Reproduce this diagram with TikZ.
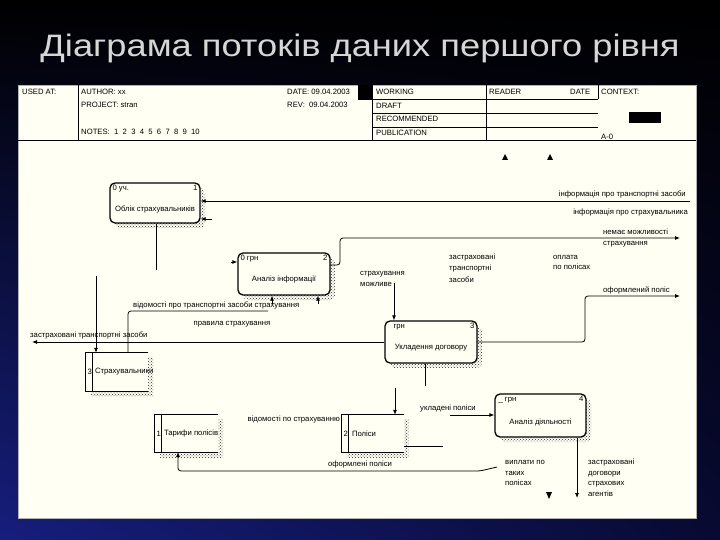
\documentclass[tikz,border=0pt]{standalone}
\usepackage{fontspec}
\setmainfont{Liberation Sans}
\usetikzlibrary{calc,arrows.meta,patterns,shadings}
\definecolor{paper}{HTML}{FFFFF4}
\definecolor{titlec}{HTML}{D6D6D6}
\definecolor{bgblue}{RGB}{22,30,125}
\definecolor{bgdark}{RGB}{8,10,50}
\definecolor{shad}{RGB}{40,40,40}
\newcommand\dfdstore[5]{% name, center, size-x, size-y, number/text
  \node[minimum width=#3pt, minimum height=#4pt, inner sep=0pt] (#1) at #2 {};
  \fill[pattern=crosshatch dots, pattern color=shad] ($(#1.north west)+(5,5)$) rectangle ($(#1.south east)+(5,5)$);
  \fill[paper] (#1.north west) rectangle (#1.south east);
  \draw[line width=1.3pt] (#1.north east) -- (#1.north west) -- (#1.south west) -- (#1.south east);
  \draw[line width=1.2pt] ($(#1.north west)+(7,0)$) -- ($(#1.south west)+(7,0)$);
  #5}
\begin{document}
\begin{tikzpicture}[x=1pt,y=-1pt,
  lbl/.style={font=\fontsize{7.7}{9}\selectfont, inner sep=0pt},
  arr/.style={-{Latex[length=5pt,width=4pt]}, line width=0.8pt},
  ln/.style={line width=0.8pt},
  proc/.style={draw, line width=1.3pt, rounded corners=5pt, fill=paper, inner sep=0pt,
    preaction={draw=none, pattern=crosshatch dots, pattern color=shad,
      transform canvas={shift={(5pt,-5pt)}}}},
  tri/.style={fill=black}
]
\useasboundingbox (0,0) rectangle (720,540);
% background
\shade[upper left=black, upper right=black, lower left=bgblue, lower right=bgdark] (0,0) rectangle (720,540);
\node[font=\fontsize{31}{36}\selectfont, text=titlec] (title) at (360,48) {\scalebox{1.17}[1]{Діаграма потоків даних першого рівня}};
% panel
\fill[paper, draw=gray!60] (18,85) rectangle (696,518);

% header
\draw[ln] (78,85) -- (78,140);
\draw[ln] (18,140) -- (696,140);
\fill (358,85) rectangle (372,99);
\draw[ln] (372,85) -- (372,140);
\draw[ln] (486,85) -- (486,140);
\draw[ln] (598,85) -- (598,99);
\draw[ln] (358,99) -- (598,99);
\draw[ln] (372,113) -- (598,113);
\draw[ln] (372,127) -- (598,127);
\fill (629,112) rectangle (661,123);
\node[lbl, anchor=west] (h1) at (22,92) {USED AT:};
\node[lbl, anchor=west] (h2) at (81,92) {AUTHOR: xx};
\node[lbl, anchor=west] (h3) at (81,105) {PROJECT: stran};
\node[lbl, anchor=west] (h4) at (81,132) {NOTES: \ 1 \ 2 \ 3 \ 4 \ 5 \ 6 \ 7 \ 8 \ 9 \ 10};
\node[lbl, anchor=west] (h5) at (287,92) {DATE: 09.04.2003};
\node[lbl, anchor=west] (h6) at (287,105) {REV: \ 09.04.2003};
\node[lbl, anchor=west] (h7) at (376,92) {WORKING};
\node[lbl, anchor=west] (h8) at (376,106) {DRAFT};
\node[lbl, anchor=west] (h9) at (376,119) {RECOMMENDED};
\node[lbl, anchor=west] (h10) at (376,133) {PUBLICATION};
\node[lbl, anchor=west] (h11) at (489,92) {READER};
\node[lbl, anchor=west] (h12) at (570,92) {DATE};
\node[lbl, anchor=west] (h13) at (601,92) {CONTEXT:};
\node[lbl, anchor=west] (h14) at (601,137) {A-0};
\fill[tri] (502,160) -- (505,154) -- (508,160) -- cycle;
\fill[tri] (547,160) -- (550,154) -- (553,160) -- cycle;

% processes
\node[proc, minimum width=90pt, minimum height=40pt] (b1) at (155,203) {};
\node[lbl, anchor=north west] at ($(b1.north west)+(3,3)$) {0 уч.};
\node[lbl, anchor=north east] at ($(b1.north east)+(-3,3)$) {1};
\node[lbl] at ($(b1.center)+(0,6)$) {Облік страхувальників};

\node[proc, minimum width=92pt, minimum height=42pt] (b2) at (284,274) {};
\node[lbl, anchor=north west] at ($(b2.north west)+(3,3)$) {0 грн};
\node[lbl, anchor=north east] at ($(b2.north east)+(-3,3)$) {2};
\node[lbl] at ($(b2.center)+(0,6)$) {Аналіз інформації};

\node[proc, minimum width=92pt, minimum height=42pt] (b3) at (431,342) {};
\node[lbl, anchor=north west] at ($(b3.north west)+(9,4)$) {грн};
\node[lbl, anchor=north east] at ($(b3.north east)+(-3,3)$) {3};
\node[lbl] at ($(b3.center)+(0,6)$) {Укладення договору};

\node[proc, minimum width=91pt, minimum height=43pt] (b4) at (540.5,415.5) {};
\node[lbl, anchor=north west] at ($(b4.north west)+(4,4)$) {\_ грн};
\node[lbl, anchor=north east] at ($(b4.north east)+(-3,3)$) {4};
\node[lbl] at ($(b4.center)+(0,7)$) {Аналіз діяльності};

% stores
\dfdstore{s3}{(117,372)}{62}{38}{%
  \node[lbl, anchor=west] at ($(s3.west)+(1.5,0)$) {3};
  \node[lbl, anchor=west] at ($(s3.west)+(9,0)$) {Страхувальники};}
\dfdstore{s1}{(186.5,433.5)}{63}{37}{%
  \node[lbl, anchor=west] at ($(s1.west)+(1.5,0)$) {1};
  \node[lbl, anchor=west] at ($(s1.west)+(9,0)$) {Тарифи полісів};}
\dfdstore{s2}{(373,433.5)}{62}{37}{%
  \node[lbl, anchor=west] at ($(s2.west)+(1.5,0)$) {2};
  \node[lbl, anchor=west] at ($(s2.west)+(10,0)$) {Поліси};}

% connectors
\coordinate (i1) at (690,201);
\draw[arr] (i1) -- (i1 -| b1.east);
\node[lbl, anchor=south east] at (686,198) {інформація про транспортні засоби};
\coordinate (i2) at (212,219);
\draw[arr] (i2) -- (i2 -| b1.east);
\node[lbl, anchor=east] at (688,213) {інформація про страхувальника};

\coordinate (o1) at (680,238);
\coordinate (c3) at (330,265);
\draw[arr, rounded corners=3pt] (c3) -- (340,265) -- (340,238) -- (o1);
\node[lbl, anchor=west] at (603,232) {немає можливості};
\node[lbl, anchor=west] at (603,244) {страхування};

\coordinate (c4) at (394,283);
\draw[arr] (c4) -- (c4 |- b3.north);
\node[lbl, anchor=west] at (360,274) {страхування};
\node[lbl, anchor=west] at (360,284) {можливе};

\node[lbl, anchor=west] at (449,258) {застраховані};
\node[lbl, anchor=west] at (449,269) {транспортні};
\node[lbl, anchor=west] at (449,280) {засоби};
\node[lbl, anchor=west] at (553,257) {оплата};
\node[lbl, anchor=west] at (553,267) {по полісах};

\coordinate (o2) at (680,296);
\draw[arr, rounded corners=3pt] (b3.east) -- (585,342) -- (585,296) -- (o2);
\node[lbl, anchor=west] at (603,290) {оформлений поліс};

\coordinate (c8) at (156,270);
\draw[ln] (b1.south -| c8) -- (c8);
\coordinate (c9) at (96,276);
\draw[arr] (c9) -- (c9 |- s3.north);

\coordinate (c10) at (268,311);
\draw[ln, rounded corners=3pt] (128,353) -- (128,311) -- (c10);
\node[lbl, anchor=south west] at (133,309) {відомості про транспортні засоби страхування};
\coordinate (c10b) at (272,304);
\draw[arr] (c10b) -- (c10b |- b2.south);
\coordinate (c11) at (318,304);
\draw[arr] (c11) -- (c11 |- b2.south);
\node[lbl] at (232,324) {правила страхування};
\coordinate (c2l) at (231,262);
\draw[arr] (c2l) -- (c2l -| b2.west);

\coordinate (o3) at (32,342);
\draw[arr] (b3.west) -- (o3);
\node[lbl, anchor=south west] at (30,339) {застраховані транспортні засоби};

\coordinate (c12) at (425,386);
\draw[ln] (b3.south -| c12) -- (c12);
\coordinate (c12b) at (395,388);
\draw[arr] (c12b) -- (c12b |- s2.north);

\coordinate (c13) at (450,415);
\draw[arr] (c13) -- (c13 -| b4.west);
\node[lbl, anchor=south] at (448,412) {укладені поліси};

\coordinate (c14) at (443,446);
\draw[ln] (c14 -| s2.east) -- (c14);
\node[lbl, anchor=east] at (340,420) {відомості по страхуванню};

\coordinate (c16) at (497,467);
\draw[arr, rounded corners=3pt] (c16) -- (480,471) -- (178,471) -- (178,452);
\node[lbl, anchor=south] at (360,468) {оформлені поліси};
\node[lbl, anchor=west] at (505,462) {виплати по};
\node[lbl, anchor=west] at (505,473) {таких};
\node[lbl, anchor=west] at (505,483) {полісах};

\coordinate (c17) at (577,498);
\draw[arr] (b4.south -| c17) -- (c17);
\node[lbl, anchor=west] at (588,463) {застраховані};
\node[lbl, anchor=west] at (588,474) {договори};
\node[lbl, anchor=west] at (588,484) {страхових};
\node[lbl, anchor=west] at (588,494) {агентів};
\fill[tri] (546,492) -- (552,492) -- (549,499) -- cycle;
\end{tikzpicture}
\end{document}
